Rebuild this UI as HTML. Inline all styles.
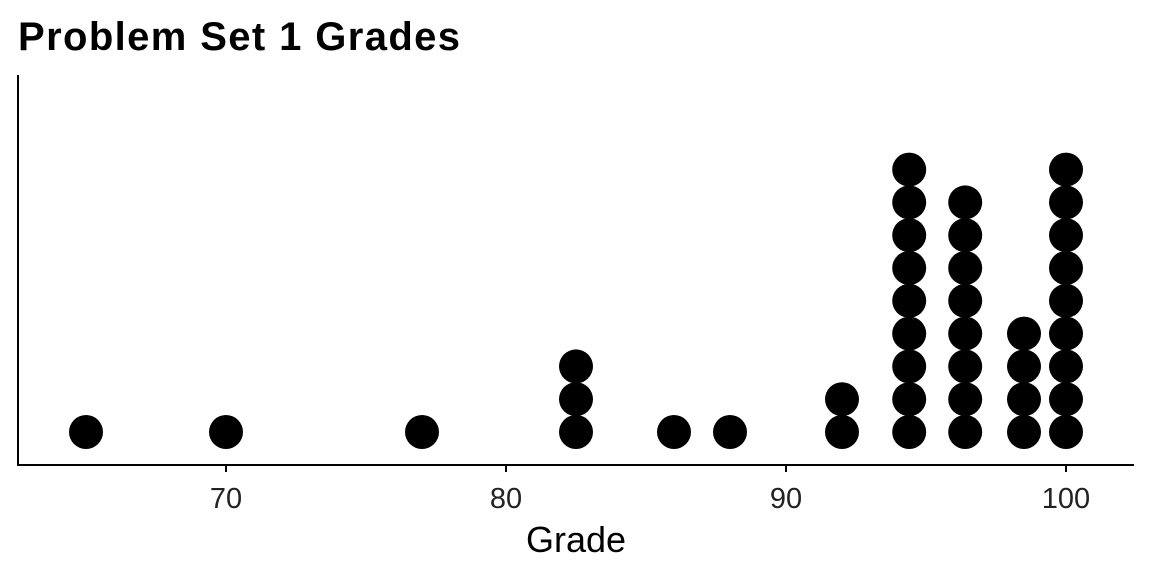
<!DOCTYPE html>
<html><head><meta charset="utf-8"><style>
body{margin:0;background:#fff;}
svg{display:block;font-family:"Liberation Sans",Arial,sans-serif;}
</style></head><body>
<svg id="chart" width="1152" height="576">
<text x="18" y="50" font-size="40" font-weight="bold" textLength="442">Problem Set 1 Grades</text>
<line x1="18" y1="75" x2="18" y2="465" stroke="#000" stroke-width="2"/>
<line x1="17" y1="465" x2="1134" y2="465" stroke="#000" stroke-width="2"/>
<text x="576" y="552" font-size="36" text-anchor="middle">Grade</text>
<g id="ticks"></g>
<g id="dots"></g>
</svg>
<script>
const grades = [65, 70, 77, 82.5, 86, 88, 92, 94.4, 96.4, 98.5, 100];
const counts = [1, 1, 1, 3, 1, 1, 2, 9, 8, 4, 9];
const tickValues = [70, 80, 90, 100];
const tickLabels = ["70", "80", "90", "100"];
const NS = "http://www.w3.org/2000/svg";
function xScale(v){ return 226 + (v - 70) * 28; }
function yScale(i){ return 432 - i * 32.8; }
const tg = document.getElementById('ticks');
tickValues.forEach((v, i) => {
  const l = document.createElementNS(NS, 'line');
  l.setAttribute('x1', xScale(v)); l.setAttribute('x2', xScale(v));
  l.setAttribute('y1', 465); l.setAttribute('y2', 472);
  l.setAttribute('stroke', '#000'); l.setAttribute('stroke-width', 2);
  
  
  tg.appendChild(l);
  const t = document.createElementNS(NS, 'text');
  t.setAttribute('x', xScale(v)); t.setAttribute('y', 508);
  t.setAttribute('font-size', 29); t.setAttribute('fill', '#222');
  t.setAttribute('text-anchor', 'middle');
  t.textContent = tickLabels[i];
  
  
  tg.appendChild(t);
});
const dg = document.getElementById('dots');
grades.forEach((g, i) => {
  for (let k = 0; k < counts[i]; k++) {
    const c = document.createElementNS(NS, 'circle');
    c.setAttribute('cx', xScale(g)); c.setAttribute('cy', yScale(k));
    c.setAttribute('r', 17); c.setAttribute('fill', '#000');
    
    
    dg.appendChild(c);
  }
});
</script>
</body></html>
